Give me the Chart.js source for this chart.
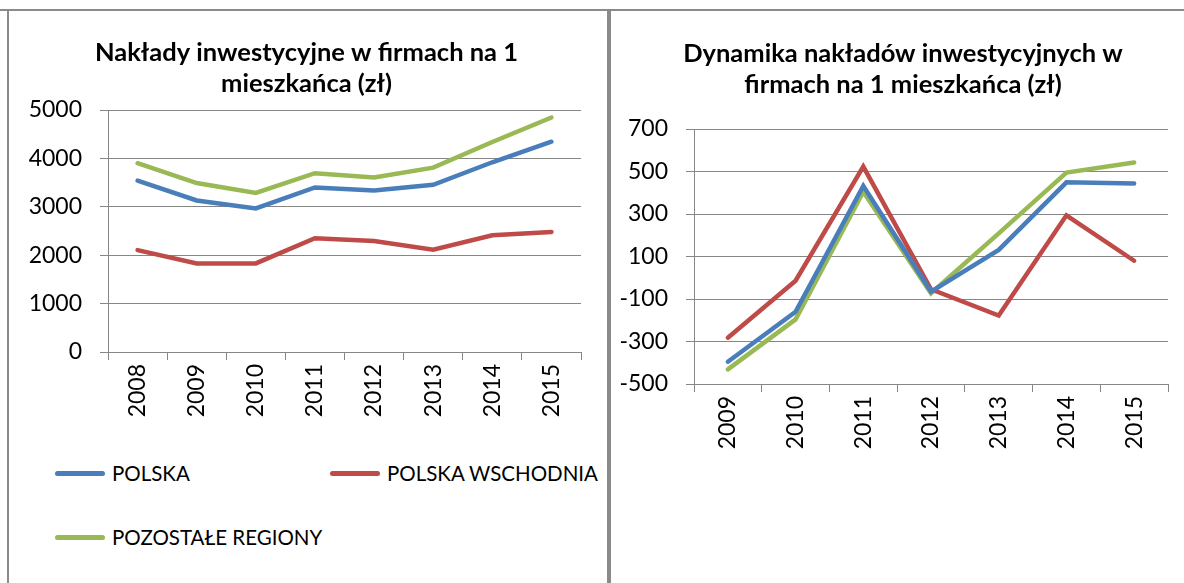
<!DOCTYPE html>
<html lang="pl">
<head>
    <meta charset="UTF-8">
    <title>Nakłady inwestycyjne</title>
    <script src="https://cdn.jsdelivr.net/npm/chart.js"></script>
    <style>
        body { margin: 0; background: #fff; font-family: 'Lato', sans-serif; }
        #page { position: relative; width: 1184px; height: 583px; overflow: hidden; }
        .line { position: absolute; background: #8a8a8a; }
        .box { position: absolute; }
        #legend { position: absolute; left: 55px; top: 461px; width: 560px; }
        .item { position: absolute; display: flex; align-items: center; font-size: 20.5px; color: #000; white-space: nowrap; }
        .swatch { width: 50px; height: 5px; border-radius: 3px; margin-right: 7px; }
    </style>
</head>
<body>
<div id="page">
    <div class="line" style="left:0; top:9px; width:1184px; height:2px;"></div>
    <div class="line" style="left:7px; top:9px; width:2px; height:574px;"></div>
    <div class="line" style="left:607px; top:9px; width:4px; height:574px;"></div>

    <div class="box" style="left:10px; top:12px; width:594px; height:430px;">
        <canvas id="levelChart"></canvas>
    </div>
    <div class="box" style="left:612px; top:12px; width:572px; height:470px;">
        <canvas id="dynamicsChart"></canvas>
    </div>
    <div id="legend"></div>
</div>

<script>
// dane
const years = ['2008', '2009', '2010', '2011', '2012', '2013', '2014', '2015'];
const polska = [3540, 3130, 2965, 3400, 3335, 3455, 3920, 4345];
const polskaWschodnia = [2105, 1830, 1830, 2350, 2295, 2115, 2410, 2480];
const pozostale = [3900, 3490, 3285, 3695, 3605, 3810, 4340, 4845];

const dynYears = ['2009', '2010', '2011', '2012', '2013', '2014', '2015'];
const dynPolska = [-395, -160, 432, -65, 131, 449, 444];
const dynWschodnia = [-282, -14, 523, -54, -178, 294, 80];
const dynPozostale = [-431, -196, 405, -73, 209, 495, 542];

const seriesNames = ['POLSKA', 'POLSKA WSCHODNIA', 'POZOSTAŁE REGIONY'];
const seriesColors = ['#4A7EBB', '#BE4B48', '#98B954'];

const gridColor = '#868686';
const fontFamily = "'Lato', sans-serif";

function makeDatasets(arrays) {
    return arrays.map((d, i) => ({
        label: seriesNames[i],
        data: d,
        borderColor: seriesColors[i],
        backgroundColor: seriesColors[i],
        borderWidth: 4.5,
        pointRadius: 0,
        tension: 0,
        borderCapStyle: 'round'
    }));
}

// przesuwa tytuł w poziomie (w Excelu tytuł nie jest dokładnie na środku)
function titleShift(dx) {
    return {
        id: 'titleShift',
        afterLayout(chart) {
            chart.titleBlock.left += dx;
            chart.titleBlock.right += dx;
        }
    };
}

function makeOptions(titleLines, yMin, yMax, yStep, yWidth, xHeight, rightPad, titleTop, titleBottom) {
    return {
        responsive: true,
        maintainAspectRatio: false,
        animation: false,
        layout: { padding: { left: 0, right: rightPad, top: 0, bottom: 0 } },
        plugins: {
            legend: { display: false },
            tooltip: { enabled: false },
            title: {
                display: true,
                text: titleLines,
                color: '#000',
                font: { family: fontFamily, size: 25.5, weight: 'bold', lineHeight: '31px' },
                padding: { top: titleTop, bottom: titleBottom }
            }
        },
        scales: {
            x: {
                offset: true,
                afterFit: s => { s.height = xHeight; },
                grid: { offset: true, drawOnChartArea: false, drawTicks: true, tickLength: 8, color: gridColor },
                border: { color: gridColor },
                ticks: { color: '#000', maxRotation: 90, minRotation: 90, padding: 4, font: { family: fontFamily, size: 23 } }
            },
            y: {
                min: yMin,
                max: yMax,
                afterFit: s => { s.width = yWidth; },
                grid: { color: gridColor, tickLength: 8 },
                border: { color: gridColor },
                ticks: {
                    stepSize: yStep, color: '#000', padding: 18,
                    font: { family: fontFamily, size: 23 },
                    callback: v => String(v)
                }
            }
        }
    };
}

new Chart(document.getElementById('levelChart'), {
    type: 'line',
    data: { labels: years, datasets: makeDatasets([polska, polskaWschodnia, pozostale]) },
    options: makeOptions(['Nakłady inwestycyjne w firmach na 1', 'mieszkańca (zł)'], 0, 5000, 1000, 98, 90, 23, 25, 11),
    plugins: [titleShift(11)]
});

new Chart(document.getElementById('dynamicsChart'), {
    type: 'line',
    data: { labels: dynYears, datasets: makeDatasets([dynPolska, dynWschodnia, dynPozostale]) },
    options: makeOptions(['Dynamika nakładów inwestycyjnych w', 'firmach na 1 mieszkańca (zł)'], -500, 700, 200, 82, 98, 16, 26, 29),
    plugins: [titleShift(13)]
});

// legenda
const legend = document.getElementById('legend');
seriesNames.forEach((name, i) => {
    const item = document.createElement('div');
    item.className = 'item';
    item.style.left = (i === 1 ? 275 : 0) + 'px';
    item.style.top = (i === 2 ? 64 : 0) + 'px';
    item.innerHTML = '<span class="swatch" style="background:' + seriesColors[i] + '"></span>' + name;
    legend.appendChild(item);
});
</script>
</body>
</html>
